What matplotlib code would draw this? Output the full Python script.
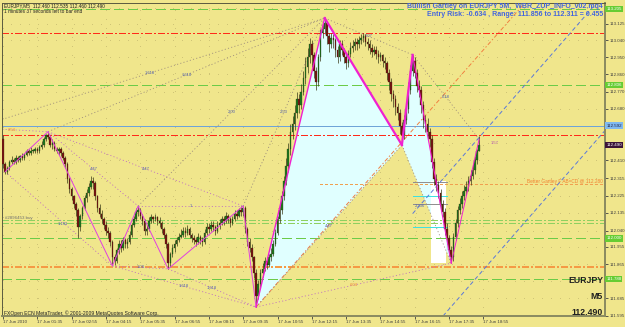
import matplotlib
matplotlib.use("Agg")
import matplotlib.pyplot as plt
from matplotlib.patches import Polygon, Rectangle
from matplotlib.transforms import blended_transform_factory

plt.rcParams['font.family'] = ['Liberation Sans', 'DejaVu Sans']
plt.rcParams['lines.scale_dashes'] = False

# EURJPY M5 candles, bar 0 = 17 Jun 00:15
first_open = 112.52
closes = [
    112.39, 112.35, 112.37, 112.40, 112.41, 112.40, 112.42, 112.41, 112.43, 112.42,
    112.44, 112.46, 112.45, 112.46, 112.46, 112.47, 112.46, 112.48, 112.49, 112.52,
    112.54, 112.53, 112.49, 112.50, 112.47, 112.46, 112.47, 112.45, 112.42, 112.39,
    112.31, 112.26, 112.22, 112.18, 112.15, 112.06, 112.12, 112.16, 112.21, 112.24,
    112.27, 112.30, 112.29, 112.22, 112.16, 112.13, 112.10, 112.07, 112.04, 112.03,
    111.98, 111.90, 111.88, 111.94, 111.97, 111.95, 111.99, 111.97, 111.98, 112.02,
    112.07, 112.10, 112.14, 112.15, 112.12, 112.09, 112.04, 112.05, 112.09, 112.11,
    112.10, 112.11, 112.09, 112.08, 112.05, 112.02, 111.97, 111.87, 111.92, 111.95,
    111.97, 111.99, 112.01, 112.02, 112.04, 112.03, 112.05, 112.02, 112.00, 111.99,
    111.98, 112.01, 111.99, 111.98, 112.03, 112.06, 112.05, 112.07, 112.06, 112.04,
    112.07, 112.08, 112.10, 112.09, 112.12, 112.10, 112.08, 112.10, 112.13, 112.12,
    112.15, 112.14, 112.16, 112.05, 111.98, 111.95, 111.90, 111.82, 111.70, 111.76,
    111.82, 111.84, 111.88, 111.86, 111.90, 111.92, 111.97, 112.03, 112.10, 112.15,
    112.22, 112.30, 112.38, 112.47, 112.56, 112.60, 112.66, 112.73, 112.70, 112.77,
    112.84, 112.90, 112.95, 113.02, 112.96, 112.88, 112.82, 112.95, 113.08, 113.10,
    113.13, 113.06, 113.02, 113.05, 113.04, 112.99, 112.95, 113.02, 112.99, 112.95,
    112.92, 112.97, 113.00, 113.01, 113.03, 113.02, 113.04, 113.05, 113.06, 113.03,
    113.02, 113.00, 112.98, 112.99, 112.97, 112.95, 112.96, 112.93, 112.92, 112.87,
    112.82, 112.76, 112.73, 112.69, 112.66, 112.59, 112.54, 112.62, 112.68, 112.78,
    112.88, 112.93, 112.87, 112.80, 112.78, 112.70, 112.62, 112.60, 112.56, 112.52,
    112.40, 112.31, 112.28, 112.24, 112.18, 112.14, 112.05, 112.00, 111.94, 111.90,
    112.01, 112.08, 112.15, 112.18, 112.22, 112.25, 112.27, 112.30, 112.33, 112.36,
    112.41, 112.46, 112.49,
]
highs = [
    112.54, 112.40, 112.38, 112.41, 112.43, 112.42, 112.44, 112.43, 112.44, 112.45,
    112.45, 112.47, 112.47, 112.48, 112.47, 112.48, 112.48, 112.49, 112.51, 112.53,
    112.55, 112.56, 112.54, 112.52, 112.51, 112.48, 112.48, 112.48, 112.46, 112.43,
    112.40, 112.32, 112.27, 112.23, 112.19, 112.16, 112.13, 112.17, 112.23, 112.26,
    112.29, 112.33, 112.32, 112.30, 112.23, 112.18, 112.15, 112.11, 112.09, 112.06,
    112.04, 111.99, 111.92, 111.95, 111.99, 111.99, 112.01, 112.00, 112.00, 112.04,
    112.08, 112.12, 112.16, 112.17, 112.16, 112.13, 112.10, 112.07, 112.11, 112.13,
    112.12, 112.13, 112.12, 112.11, 112.09, 112.06, 112.03, 111.98, 111.93, 111.97,
    111.99, 112.01, 112.03, 112.05, 112.06, 112.06, 112.07, 112.06, 112.03, 112.02,
    112.01, 112.03, 112.02, 112.01, 112.05, 112.08, 112.08, 112.09, 112.09, 112.07,
    112.09, 112.10, 112.12, 112.12, 112.14, 112.13, 112.11, 112.12, 112.15, 112.15,
    112.16, 112.17, 112.17, 112.17, 112.06, 112.00, 111.97, 111.91, 111.84, 111.78,
    111.84, 111.87, 111.90, 111.90, 111.92, 111.95, 111.99, 112.05, 112.12, 112.18,
    112.25, 112.33, 112.42, 112.50, 112.60, 112.64, 112.70, 112.77, 112.76, 112.81,
    112.88, 112.95, 113.00, 113.05, 113.04, 112.98, 112.90, 112.97, 113.10, 113.13,
    113.16, 113.14, 113.08, 113.08, 113.07, 113.05, 113.01, 113.04, 113.04, 113.00,
    112.97, 112.99, 113.03, 113.04, 113.05, 113.05, 113.06, 113.07, 113.08, 113.07,
    113.05, 113.04, 113.02, 113.01, 113.01, 112.99, 112.98, 112.97, 112.95, 112.93,
    112.89, 112.84, 112.78, 112.75, 112.71, 112.68, 112.61, 112.65, 112.72, 112.82,
    112.91, 112.96, 112.95, 112.89, 112.83, 112.80, 112.72, 112.65, 112.63, 112.58,
    112.54, 112.42, 112.34, 112.30, 112.26, 112.20, 112.16, 112.08, 112.02, 111.96,
    112.03, 112.10, 112.17, 112.21, 112.25, 112.28, 112.30, 112.33, 112.36, 112.39,
    112.43, 112.47, 112.535,
]
lows = [
    112.37, 112.34, 112.34, 112.36, 112.39, 112.39, 112.39, 112.40, 112.40, 112.41,
    112.41, 112.43, 112.44, 112.44, 112.45, 112.45, 112.45, 112.45, 112.47, 112.48,
    112.51, 112.52, 112.48, 112.47, 112.46, 112.45, 112.44, 112.43, 112.41, 112.37,
    112.29, 112.24, 112.20, 112.16, 112.12, 112.00, 112.04, 112.10, 112.15, 112.19,
    112.22, 112.26, 112.26, 112.20, 112.14, 112.11, 112.08, 112.05, 112.02, 112.00,
    111.96, 111.86, 111.86, 111.87, 111.92, 111.93, 111.94, 111.95, 111.95, 111.97,
    112.01, 112.06, 112.09, 112.12, 112.10, 112.07, 112.02, 112.02, 112.04, 112.08,
    112.08, 112.09, 112.07, 112.06, 112.03, 112.00, 111.95, 111.84, 111.85, 111.90,
    111.93, 111.96, 111.98, 112.00, 112.01, 112.01, 112.02, 112.00, 111.98, 111.97,
    111.96, 111.97, 111.97, 111.96, 111.97, 112.02, 112.03, 112.04, 112.04, 112.02,
    112.03, 112.05, 112.07, 112.07, 112.08, 112.08, 112.06, 112.07, 112.09, 112.10,
    112.11, 112.12, 112.12, 112.03, 111.96, 111.93, 111.88, 111.79, 111.64, 111.68,
    111.74, 111.80, 111.83, 111.84, 111.85, 111.88, 111.91, 111.96, 112.02, 112.08,
    112.13, 112.20, 112.28, 112.35, 112.44, 112.52, 112.57, 112.63, 112.66, 112.68,
    112.75, 112.81, 112.87, 112.92, 112.90, 112.84, 112.78, 112.80, 112.93, 113.05,
    113.07, 113.02, 112.98, 113.00, 113.00, 112.95, 112.92, 112.93, 112.96, 112.92,
    112.89, 112.90, 112.95, 112.98, 112.99, 112.99, 113.00, 113.02, 113.03, 113.01,
    112.99, 112.97, 112.95, 112.96, 112.94, 112.92, 112.93, 112.90, 112.89, 112.83,
    112.78, 112.72, 112.69, 112.65, 112.62, 112.55, 112.49, 112.52, 112.60, 112.66,
    112.76, 112.85, 112.84, 112.77, 112.74, 112.66, 112.58, 112.56, 112.52, 112.48,
    112.37, 112.28, 112.25, 112.21, 112.15, 112.11, 112.02, 111.97, 111.91, 111.87,
    111.88, 111.99, 112.06, 112.13, 112.16, 112.20, 112.23, 112.25, 112.28, 112.31,
    112.34, 112.39, 112.46,
]

time_labels = [
    "17 Jun 2010", "17 Jun 01:35", "17 Jun 02:55", "17 Jun 04:15", "17 Jun 05:35",
    "17 Jun 06:55", "17 Jun 08:15", "17 Jun 09:35", "17 Jun 10:55", "17 Jun 12:15",
    "17 Jun 13:35", "17 Jun 14:55", "17 Jun 16:15", "17 Jun 17:35", "17 Jun 18:55",
]
bars_per_label = 16

price_ticks = [113.210, 113.125, 113.040, 112.950, 112.860, 112.770, 112.680,
               112.590, 112.500, 112.410, 112.315, 112.225, 112.135, 112.040,
               111.955, 111.865, 111.775, 111.685, 111.595]

# zigzag and Gartley pivots (bar index, price)
pivot_names = ["Q", "P0", "P1", "P2", "P3", "P4", "P5", "X", "A", "B", "C", "D", "E"]
pivot_bars = [-13, 1, 21, 51, 63, 77, 112, 118, 150, 186, 191, 209, 222]
pivot_prices = [112.58, 112.35, 112.56, 111.856, 112.17, 111.84, 112.17,
                111.64, 113.156, 112.49, 112.963, 111.87, 112.52]

zigzag_path = ["P0", "P1", "P2", "P3", "P4", "P5", "X"]
pattern_legs = [("X", "A", 1.0), ("A", "B", 1.6), ("B", "C", 1.6), ("C", "D", 0.8), ("D", "E", 0.7)]
pattern_triangles = [("X", "A", "B"), ("B", "C", "D")]
# (from, to, label, colour kind)
ratio_lines = [
    ("Q", "P1", ".654", "o"), ("Q", "A", "1.618", "g"), ("P1", "A", "1.618", "g"),
    ("P0", "P2", "", "p"), ("P1", "P3", ".447", "p"), ("P1", "P5", ".447", "p"),
    ("P2", "P4", "1.08", "p"), ("P3", "P5", "1", "p"), ("P2", "X", "1.618", "p"),
    ("P4", "X", "1.618", "p"), ("P3", "A", "2.00", "g"), ("P5", "A", "2.53", "g"),
    ("X", "B", ".447", "g"), ("A", "C", ".707", "g"), ("X", "D", ".604", "o"),
    ("B", "D", "", "g"), ("C", "E", ".618", "g"),
]

# horizontal levels
green_levels = [113.205, 112.806, 112.000, 111.788]
red_levels = [113.078, 112.540]
blue_level = 112.592
orange_level = 111.851
order_levels = [112.096, 112.081]
better_level = 112.284
current_price = 112.490
box_levels_cyan = [112.222, 112.060]
box_levels_gray = [112.295, 112.180]
box_bars = [191, 207]
white_box_bars = [199.5, 206.5]
white_box_prices = [111.87, 112.30]

# channel lines (bar, price) pairs
blue_upper = ([191, 281], [112.13, 113.29])
blue_lower = ([203, 281], [111.565, 112.57])
orange_diag = ([118, 250], [111.64, 113.32])

bg = '#F0E68C'
fig = plt.figure(figsize=(6.25, 3.27), dpi=100, facecolor=bg)
ax = fig.add_axes([2 / 625, 11 / 327, 603 / 625, 313 / 327], facecolor=bg)
ax.set_xlim(-0.47, 280.7)
ax.set_ylim(111.593, 113.235)

piv = {n: (b, p) for n, b, p in zip(pivot_names, pivot_bars, pivot_prices)}
dot = (0, (0.8, 1.6))
dashdot = (0, (5, 1.5, 1.2, 1.5))
px1 = 0.72  # one pixel in points

# faint terminal grid (sparse dots)
tick_bars = [k * bars_per_label for k in range(len(time_labels))]
for b in tick_bars:
    ax.axvline(b, color='#CFC476', lw=px1, ls=(0, (0.7, 6)), zorder=0.5, antialiased=False)
for v in price_ticks:
    ax.axhline(v, color='#CFC476', lw=px1, ls=(0, (0.7, 6)), zorder=0.5, antialiased=False)

# pattern fills
for tri in pattern_triangles:
    ax.add_patch(Polygon([piv[n] for n in tri], closed=True, facecolor='#E0FFFF',
                         edgecolor='none', zorder=1))
ax.add_patch(Rectangle((white_box_bars[0], white_box_prices[0]),
                       white_box_bars[1] - white_box_bars[0],
                       white_box_prices[1] - white_box_prices[0],
                       facecolor='white', edgecolor='none', zorder=1))

# horizontal levels (crisp one-pixel lines)
crisp = dict(zorder=2, antialiased=False)
for lv in green_levels:
    ax.axhline(lv, color='#6CCB48', lw=px1, ls=(0, (6.5, 3.5)), **crisp)
for lv in red_levels:
    ax.axhline(lv, color='#FF2A1A', lw=px1, ls=dashdot, **crisp)
for lv in order_levels:
    ax.axhline(lv, color='#8ED060', lw=px1, ls=dashdot, **crisp)
ax.axhline(blue_level, color='#6FA4D8', lw=px1, **crisp)
ax.axhline(orange_level, color='#F59A45', lw=2 * px1, ls=dashdot, **crisp)
ax.plot([148, 281], [better_level, better_level], color='#F0A050', lw=px1,
        ls=(0, (1.5, 1.5)), **crisp)
for lv in box_levels_cyan:
    ax.plot(box_bars, [lv, lv], color='#40E0E0', lw=px1, **crisp)
for lv in box_levels_gray:
    ax.plot(box_bars, [lv, lv], color='#909090', lw=px1, **crisp)

# diagonal channels
ax.plot(*blue_upper, color='#5A78D8', lw=0.7, ls=(0, (3, 2)), zorder=2)
ax.plot(*blue_lower, color='#5A78D8', lw=0.7, ls=(0, (3, 2)), zorder=2)
ax.plot(*orange_diag, color='#F08040', lw=0.7, ls=(0, (3, 1.5, 1, 1.5)), zorder=2)

# ratio lines with labels
line_cols = {'g': '#9C8C7C', 'p': '#C070C0', 'o': '#C070C0'}
text_cols = {'g': '#5060B0', 'p': '#5060B0', 'o': '#F08030'}
for a, b, lab, kind in ratio_lines:
    (x1, y1), (x2, y2) = piv[a], piv[b]
    ax.plot([x1, x2], [y1, y2], color=line_cols[kind], lw=0.6, ls=dot, zorder=2)
    if lab:
        ax.text((x1 + x2) / 2, (y1 + y2) / 2, lab, fontsize=3, color=text_cols[kind],
                ha='center', va='center', zorder=6)

# candles
opens = [first_open] + closes[:-1]
idx = list(range(len(closes)))
ax.vlines(idx, lows, highs, color='#3A3A18', lw=0.5, zorder=3)
for i, o, c in zip(idx, opens, closes):
    lo, hi = min(o, c), max(o, c)
    col = '#1E7A1E' if c >= o else '#7A1212'
    ax.add_patch(Rectangle((i - 0.35, lo), 0.7, max(hi - lo, 0.004),
                           facecolor=col, edgecolor='#2A2A10', lw=0.2, zorder=4))

# zigzag and pattern legs
ax.plot([piv[n][0] for n in zigzag_path], [piv[n][1] for n in zigzag_path],
        color='#E040E0', lw=0.7, zorder=5)
for a, b, w in pattern_legs:
    ax.plot([piv[a][0], piv[b][0]], [piv[a][1], piv[b][1]], color='#F020D0', lw=w, zorder=5)

ax.annotate("1.57", piv["E"], xytext=(8, -3), textcoords='offset points',
            fontsize=3, color='#B050B0', va='center', zorder=6)
ax.text(box_bars[0] + 1, box_levels_gray[1], "2.236", fontsize=3, color='#5060B0',
        va='top', zorder=6)

# axes styling
for s in ax.spines.values():
    s.set_color('#5A5A40')
    s.set_linewidth(0.7)
ax.spines['right'].set_color('#8A8A60')
ax.spines['right'].set_linewidth(1.4)
ax.spines['bottom'].set_color('#8A8A60')
ax.spines['bottom'].set_linewidth(1.4)

# price tags on the axis hide the tick labels they sit on
tags = [(lv, '#66CC33', 'white') for lv in green_levels]
tags += [(blue_level, '#7FB8F0', '#202040'), (current_price, '#3C1438', 'white')]
tick_text = []
for v in price_ticks:
    hidden = any(abs(v - lv) < 0.03 for lv, _, _ in tags)
    tick_text.append("" if hidden else f"{v:.3f}")

ax.yaxis.tick_right()
ax.set_yticks(price_ticks)
ax.set_yticklabels(tick_text)
ax.tick_params(axis='y', length=2, width=0.6, pad=1, labelsize=3.2, colors='#404040')

ax.set_xticks(tick_bars)
ax.set_xticklabels(time_labels, ha='left')
ax.tick_params(axis='x', length=2, width=0.6, pad=1, labelsize=3.2, colors='#404040')

tag_tr = blended_transform_factory(ax.transAxes, ax.transData)
for lv, fc, tc in tags:
    ax.text(1.002, lv, f"{lv:.3f}", transform=tag_tr, fontsize=3.2, color=tc,
            ha='left', va='center', zorder=10, clip_on=False,
            bbox=dict(boxstyle='square,pad=0.25', facecolor=fc, edgecolor='none'))

# chart texts
ax.text(0.0035, 0.991, "EURJPY,M5  112.460 112.535 112.460 112.490", transform=ax.transAxes,
        fontsize=3.4, color='#202020', va='center')
ax.text(0.0035, 0.974, "1 minutes 37 seconds left to bar end", transform=ax.transAxes,
        fontsize=3.4, color='#202020', va='center')
ax.text(0.9967, 0.990, "Bullish Gartley on EURJPY 5M,  WBR_ZUP_INFO_v02.mq4",
        transform=ax.transAxes, fontsize=5.0, fontweight='bold', color='#4466DD',
        ha='right', va='center')
ax.text(0.9967, 0.964, "Entry Risk: -0.634 , Range: 111.856 to 112.311 = 0.455",
        transform=ax.transAxes, fontsize=5.0, fontweight='bold', color='#4466DD',
        ha='right', va='center')
ax.text(0.9967, better_level, "Better Gartley F AB=CD @ 112.280", transform=tag_tr,
        fontsize=3.4, color='#F08030', ha='right', va='bottom')
ax.text(0.005, 0.313, "#2896453 buy", transform=ax.transAxes, fontsize=3.2,
        color='#707070', va='center')
ax.text(0.093, 0.294, "1.143", transform=ax.transAxes, fontsize=3, color='#5060B0',
        va='center')
ax.text(0.003, 0.0096, "FXOpen ECN MetaTrader, \u00a9 2001-2009 MetaQuotes Software Corp.",
        transform=ax.transAxes, fontsize=3.6, color='#202020', va='center')
ax.text(0.9967, 0.115, "EURJPY", transform=ax.transAxes, fontsize=6.3,
        fontweight='bold', color='#202020', ha='right', va='center')
ax.text(0.9967, 0.062, "M5", transform=ax.transAxes, fontsize=6.3,
        fontweight='bold', color='#202020', ha='right', va='center')
ax.text(0.9967, 0.012, "112.490", transform=ax.transAxes, fontsize=6.3,
        fontweight='bold', color='#202020', ha='right', va='center')

fig.savefig("out.png", dpi=100, facecolor=bg)
